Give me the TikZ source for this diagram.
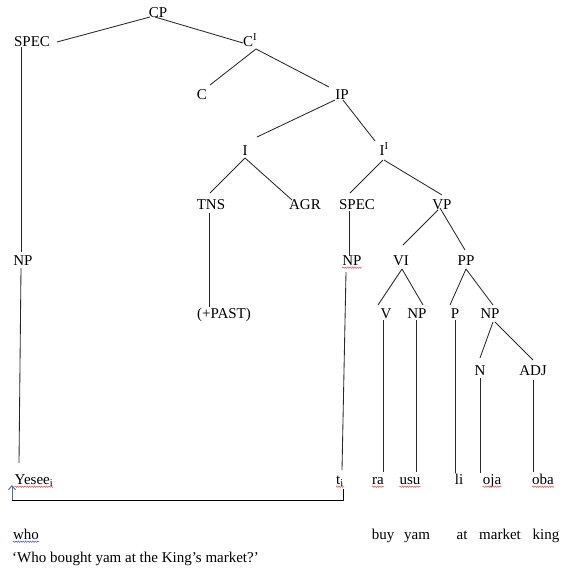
\documentclass[tikz,border=0pt]{standalone}
\usepackage{fontspec}
\setmainfont{Liberation Serif}
\usetikzlibrary{decorations.pathmorphing,arrows.meta}
\definecolor{linec}{RGB}{40,40,40}
\definecolor{arrowc}{RGB}{70,110,160}
\definecolor{spellred}{RGB}{225,80,80}
\definecolor{spellblue}{RGB}{70,90,200}
\begin{document}
\begin{tikzpicture}[x=1pt,y=-1pt,
  lab/.style={inner sep=0pt, text height=10pt, text depth=0pt, font=\fontsize{15}{18}\selectfont},
  br/.style={draw=linec, line width=0.85pt},
  wavy/.style={draw=spellred, line width=0.5pt, decorate, decoration={snake, amplitude=0.7pt, segment length=2.4pt}},
  wavyb/.style={wavy, draw=spellblue},
  link/.style={draw=black, line width=0.9pt},
  uparrow/.style={draw=arrowc, line width=1pt, -{Straight Barb[length=4pt,width=7pt]}}]
\useasboundingbox (0,0) rectangle (563,571);
% nodes
\node[lab] (CP) at (158,12) {CP};
\node[lab] (SPECa) at (32,41) {SPEC};
\node[lab] (CI) at (250,41) {C\textsuperscript{I}};
\node[lab] (C) at (202,94) {C};
\node[lab] (IP) at (342,94) {IP};
\node[lab] (I) at (245,150) {I};
\node[lab] (II) at (384,150) {I\textsuperscript{I}};
\node[lab] (TNS) at (211,204) {TNS};
\node[lab] (AGR) at (305,204) {AGR};
\node[lab] (SPECb) at (357,204) {SPEC};
\node[lab] (VP) at (442,204) {VP};
\node[lab] (NPa) at (23,260) {NP};
\node[lab] (NPb) at (352,260) {NP};
\node[lab] (VI) at (401,260) {VI};
\node[lab] (PP) at (466,260) {PP};
\node[lab] (PAST) at (224,313) {(+PAST)};
\node[lab] (V) at (386,313) {V};
\node[lab] (NPc) at (417,313) {NP};
\node[lab] (P) at (455,313) {P};
\node[lab] (NPd) at (490,313) {NP};
\node[lab] (N) at (480,370) {N};
\node[lab] (ADJ) at (533,370) {ADJ};
\node[lab] (Yesee) at (34,479) {Yesee\textsubscript{i}};
\node[lab] (ti) at (340,479) {t\textsubscript{i}};
\node[lab] (ra) at (378,479) {ra};
\node[lab] (usu) at (410,479) {usu};
\node[lab] (li) at (459,479) {li};
\node[lab] (oja) at (492,479) {oja};
\node[lab] (oba) at (543,479) {oba};
\node[lab] (who) at (26,534) {who};
\node[lab] (buy) at (383,534) {buy};
\node[lab] (yam) at (417,534) {yam};
\node[lab] (at) at (462,534) {at};
\node[lab] (market) at (500,534) {market};
\node[lab] (king) at (546,534) {king};
\node[lab, anchor=west] (gloss) at (12,557) {‘Who bought yam at the King’s market?’};
% branches
\draw[br] ([shift={(-8,5)}]CP.center) -- ([shift={(25,1)}]SPECa.center);
\draw[br] ([shift={(-3,5)}]CP.center) -- ([shift={(-7,2)}]CI.center);
\draw[br] ([shift={(6,8)}]CI.center) -- ([shift={(8,-9)}]C.center);
\draw[br] ([shift={(6,8)}]CI.center) -- ([shift={(-13,-7)}]IP.center);
\draw[br] ([shift={(-7,6)}]IP.center) -- ([shift={(12,-13)}]I.center);
\draw[br] ([shift={(1,6)}]IP.center) -- ([shift={(-9,-9)}]II.center);
\draw[br] ([shift={(0,8)}]I.center) -- ([shift={(-1,-11)}]TNS.center);
\draw[br] ([shift={(0,8)}]I.center) -- ([shift={(-13,-4)}]AGR.center);
\draw[br] ([shift={(-1,10)}]II.center) -- ([shift={(-7,-11)}]SPECb.center);
\draw[br] ([shift={(0,10)}]II.center) -- ([shift={(0,-9)}]VP.center);
\draw[br] ([shift={(-4,6)}]VP.center) -- ([shift={(2,-15)}]VI.center);
\draw[br] ([shift={(-2,4)}]VP.center) -- ([shift={(-1,-10)}]PP.center);
\draw[br] ([shift={(1,9)}]VI.center) -- ([shift={(-8,-8)}]V.center);
\draw[br] ([shift={(1,9)}]VI.center) -- ([shift={(6,-8)}]NPc.center);
\draw[br] ([shift={(0,9)}]PP.center) -- ([shift={(-5,-8)}]P.center);
\draw[br] ([shift={(0,9)}]PP.center) -- ([shift={(3,-8)}]NPd.center);
\draw[br] ([shift={(3,9)}]NPd.center) -- ([shift={(0,-12)}]N.center);
\draw[br] ([shift={(5,9)}]NPd.center) -- ([shift={(0,-10)}]ADJ.center);
% vertical lines
\draw[br] ([shift={(-11,6)}]SPECa.center) -- ([shift={(-2,-8)}]NPa.center);
\draw[br] ([shift={(-2,8)}]NPa.center) -- ([shift={(-15,-16)}]Yesee.center);
\draw[br] ([shift={(-2,9)}]TNS.center) -- ([shift={(-15,-6)}]PAST.center);
\draw[br] ([shift={(-8,7)}]SPECb.center) -- ([shift={(-3,-4)}]NPb.center);
\draw[br] ([shift={(-6,12)}]NPb.center) -- ([shift={(2,-9)}]ti.center);
\draw[br] ([shift={(-3,7)}]V.center) -- ([shift={(5,-7)}]ra.center);
\draw[br] ([shift={(-1,7)}]NPc.center) -- ([shift={(6,-7)}]usu.center);
\draw[br] ([shift={(0,7)}]P.center) -- ([shift={(-4,-6)}]li.center);
\draw[br] ([shift={(0,8)}]N.center) -- ([shift={(-12,-6)}]oja.center);
\draw[br] ([shift={(0,10)}]ADJ.center) -- ([shift={(-10,-7)}]oba.center);
% movement link
\coordinate (corner) at (12,500);
\draw[link] ([shift={(3,10)}]ti.center) |- (corner);
\draw[uparrow] (corner) -- ([shift={(-22,6)}]Yesee.center);
% spell-check underlines
\foreach \n in {NPb,Yesee,ti,ra,usu,oja,oba}{
  \draw[wavy] ([yshift=-2.5pt]\n.south west) -- ([yshift=-2.5pt]\n.south east);
}
\draw[wavyb] ([yshift=-2.5pt]who.south west) -- ([yshift=-2.5pt]who.south east);
\end{tikzpicture}
\end{document}
